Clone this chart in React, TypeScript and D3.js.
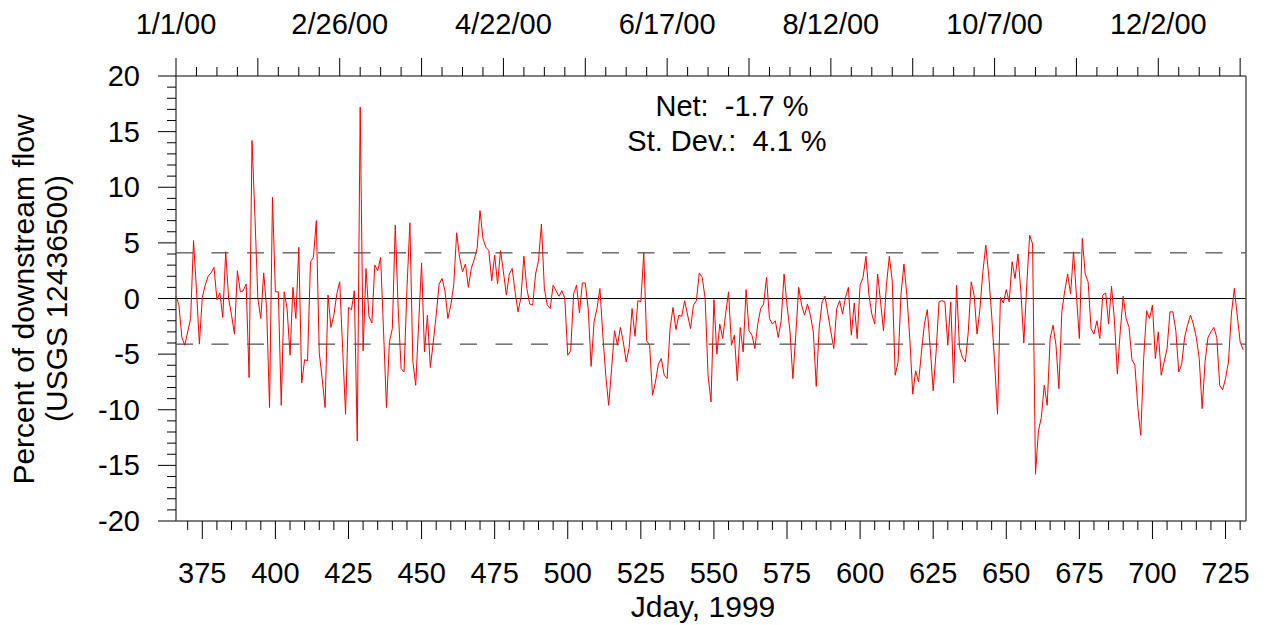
import React from 'react';
import * as d3 from 'd3';

// Jday 1999 of the first value (Jan 1, 2000 = day 366)
const startDay = 366;

// Percent of downstream flow, daily values
const flowPct1 = [0.2, -0.6, -3.5, -4.2, -3.0, -1.8, 5.2, 0.8, -4.1, 0.1, 1.2, 2.0, 2.3, 2.8, -0.1, 0.5, -1.7, 4.2, 0.0, -1.5, -3.2, 2.5, 0.6, 0.7, 1.3, -7.1, 14.2, 7.4, 0.0, -1.8, 2.3, -0.9, -9.8, 9.1, 0.6];
const flowPct2 = [0.6, -9.6, 0.6, -0.9, -5.1, 1.0, -1.8, 4.6, -7.6, -5.5, -5.6, 3.3, 3.7, 7.0, -4.9, -7.2, -9.8, 0.3, -2.6, -1.5, 0.4, 1.5, -4.5, -10.4, -0.8, -1.0, 0.7, -12.8, 17.2, -4.7, 2.7, -1.6, -2.2, 3.0, 2.5, 3.7, -3.0];
const flowPct3 = [-9.8, -3.9, -2.7, 6.6, -0.9, -6.3, -6.6, 0.9, 6.8, -5.6, -7.8, -2.3, 3.2, -4.8, -1.5, -6.2, -3.9, -1.5, 1.3, 1.8, 0.7, -1.8, -0.6, 1.2, 5.9, 3.7, 2.4, 3.1, 1.0, 2.7, 3.5, 4.5, 7.9, 5.4, 4.6, 4.3, 1.6];
const flowPct4 = [3.9, 1.3, 4.3, 2.4, 0.3, 2.2, 2.7, 0.6, -1.2, 0.1, 3.8, 0.9, -0.5, -0.6, 2.2, 3.4, 6.7, 0.9, -0.6, -0.9, 1.2, 0.7, 0.2, 0.7, 0.0, -5.1, -4.7, 0.4, 1.2, -1.3, 1.4, 1.4, -0.9, -6.1, -2.1, -0.9, 0.9];
const flowPct5 = [-3.3, -6.9, -9.6, -6.3, -2.9, -4.2, -2.6, -3.9, -5.7, -4.4, -0.9, -3.4, -0.2, -0.3, 4.1, -3.8, -4.2, -8.7, -7.5, -5.9, -5.4, -6.9, -7.2, -2.7, -0.8, -2.8, -1.5, -1.6, -0.2, -1.5, -2.7, -0.6, -0.2, 2.3, 1.9, 0.0, -6.9];
const flowPct6 = [-9.3, -0.1, -5.0, -2.3, -3.6, -1.4, 0.6, -4.2, -3.3, -7.4, -2.6, -4.8, 0.8, -2.9, -3.3, -4.5, -2.3, -0.9, -0.5, 1.9, -1.8, -2.3, -2.0, -3.5, -2.0, 2.2, -0.6, -2.9, -7.2, -3.3, 1.0, -0.6, -1.5, -0.5, -1.5, -3.0, -7.9];
const flowPct7 = [-2.7, -0.3, 0.2, -1.4, -3.0, -4.5, -0.9, -0.2, -1.4, 0.1, 1.0, -3.3, -0.4, -3.6, 1.2, 1.9, 3.8, 0.4, -1.4, -2.3, 2.2, -0.3, -2.9, 1.2, 3.8, 1.6, -6.9, -5.7, 0.4, 3.1, 0.3, -3.6, -8.6, -6.5, -7.5, -4.8, -2.3];
const flowPct8 = [-1.0, -4.5, -8.3, -4.8, -0.3, -0.2, -0.3, -4.2, -0.3, -7.6, 1.2, -4.4, -5.3, -5.7, -3.0, 1.5, 0.3, -3.2, -0.9, 2.4, 4.8, 2.1, -1.5, -5.7, -10.4, 0.1, -0.4, 0.8, -0.3, 3.3, 1.8, 4.0, 0.6, -4.0, 1.2, 5.7, 4.9];
const flowPct9 = [-15.8, -11.9, -10.7, -7.8, -9.6, -3.6, -2.4, -4.2, -8.1, -1.2, 0.7, 2.2, 0.4, 4.2, 0.3, -3.6, 5.4, 2.2, 1.5, -2.7, -3.2, -2.0, -3.6, 0.3, 0.5, -2.3, 1.1, -2.0, -6.8, -2.9, 0.2, -1.8, -2.6, -5.5, -6.0, -9.8, -12.3];
const flowPct10 = [-5.4, -1.1, -1.8, -0.6, -5.4, -3.0, -6.9, -5.7, -4.5, -1.2, -1.2, -2.9, -6.6, -5.9, -3.5, -2.4, -1.5, -2.3, -3.5, -5.4, -9.9, -5.7, -3.5, -3.0, -2.6, -3.5, -7.8, -8.2, -7.2, -5.7, -1.4, 0.9, -1.5, -3.9, -4.6];

const values = [
  ...flowPct1, ...flowPct2, ...flowPct3, ...flowPct4, ...flowPct5,
  ...flowPct6, ...flowPct7, ...flowPct8, ...flowPct9, ...flowPct10,
];

const xTickValues = [375, 400, 425, 450, 475, 500, 525, 550, 575, 600, 625, 650, 675, 700, 725];
const yTickValues = [20, 15, 10, 5, 0, -5, -10, -15, -20];
const topLabels = ['1/1/00', '2/26/00', '4/22/00', '6/17/00', '8/12/00', '10/7/00', '12/2/00'];
const topLabelDays = [366, 422, 478, 534, 590, 646, 702];

const netPct = -1.7;
const stDevPct = 4.1;

const FONT = '"Liberation Sans", Arial, Helvetica, sans-serif';

export default function App() {
  const W = 1266;
  const H = 625;
  const L = 176, R = 1246, T = 76, B = 521;
  const x = d3.scaleLinear().domain([366, 732]).range([L, R]);
  const y = d3.scaleLinear().domain([-20, 20]).range([B, T]);
  const line = d3.line<number>().x((_, i) => x(startDay + i)).y((d) => y(d));

  const bottomMinor = d3.range(370, 731, 5).filter((d) => d % 25 !== 0);
  const topTicks = d3.range(366, 733, 7);
  const leftMinor = d3.range(-20, 21, 1).filter((d) => d % 5 !== 0);

  const axisStroke = '#555';
  const tickFont = 29;
  const titleFont = 30;

  return (
    <svg width={W} height={H} style={{ position: 'absolute', left: 0, top: 0, background: '#fff' }} fontFamily={FONT}>
      <rect x={0} y={0} width={W} height={H} fill="#fff" />
      {/* reference lines */}
      <line x1={L} x2={R} y1={y(0)} y2={y(0)} stroke="#000" strokeWidth={1} />
      <line x1={L} x2={R} y1={y(stDevPct)} y2={y(stDevPct)} stroke="#222" strokeWidth={1} strokeDasharray="17,18.5" />
      <line x1={L} x2={R} y1={y(-stDevPct)} y2={y(-stDevPct)} stroke="#222" strokeWidth={1} strokeDasharray="17,18.5" />

      {/* data */}
      <path d={line(values) || ''} fill="none" stroke="#ff0000" strokeWidth={1} strokeLinejoin="round" />

      {/* frame */}
      <line x1={L} x2={L} y1={T} y2={B} stroke={axisStroke} strokeWidth={1.5} />
      <line x1={R} x2={R} y1={T} y2={B} stroke={axisStroke} strokeWidth={1.5} />
      <line x1={L} x2={R} y1={T} y2={T} stroke={axisStroke} strokeWidth={1.5} />
      <line x1={L} x2={R} y1={B} y2={B} stroke={axisStroke} strokeWidth={1.5} />

      {/* left axis */}
      {yTickValues.map((v) => (
        <g key={'yt' + v}>
          <line x1={L - 18} x2={L} y1={y(v)} y2={y(v)} stroke="#000" strokeWidth={1} />
          <text x={140} y={y(v) + 10} textAnchor="end" fontSize={tickFont} fill="#000">{String(v)}</text>
        </g>
      ))}
      {leftMinor.map((v) => (
        <line key={'ym' + v} x1={L - 9} x2={L} y1={y(v)} y2={y(v)} stroke="#000" strokeWidth={1} />
      ))}

      {/* bottom axis */}
      {xTickValues.map((v) => (
        <g key={'xt' + v}>
          <line x1={x(v)} x2={x(v)} y1={B} y2={B + 18} stroke="#000" strokeWidth={1} />
          <text x={x(v)} y={583} textAnchor="middle" fontSize={tickFont} fill="#000">{String(v)}</text>
        </g>
      ))}
      {bottomMinor.map((v) => (
        <line key={'xm' + v} x1={x(v)} x2={x(v)} y1={B} y2={B + 9} stroke="#000" strokeWidth={1} />
      ))}

      {/* top axis (dates) */}
      {topTicks.map((d) => {
        const major = (d - 366) % 28 === 0;
        return (
          <line key={'tt' + d} x1={x(d)} x2={x(d)} y1={T} y2={T - (major ? 18 : 9)} stroke="#000" strokeWidth={1} />
        );
      })}
      {topLabels.map((lab, i) => (
        <text key={'tl' + lab} x={x(topLabelDays[i])} y={34} textAnchor="middle" fontSize={tickFont} fill="#000">{lab}</text>
      ))}

      {/* annotations */}
      <text x={732} y={116} textAnchor="middle" fontSize={29} fill="#000" style={{ whiteSpace: 'pre' }}>{`Net:  ${netPct.toFixed(1)} %`}</text>
      <text x={727} y={151} textAnchor="middle" fontSize={29} fill="#000" style={{ whiteSpace: 'pre' }}>{`St. Dev.:  ${stDevPct.toFixed(1)} %`}</text>

      {/* axis titles */}
      <text x={703} y={617} textAnchor="middle" fontSize={titleFont} fill="#000">Jday, 1999</text>
      <text transform={`translate(34,${(T + B) / 2 + 1}) rotate(-90)`} textAnchor="middle" fontSize={titleFont} fill="#000">Percent of downstream flow</text>
      <text transform={`translate(67,${(T + B) / 2}) rotate(-90)`} textAnchor="middle" fontSize={titleFont} fill="#000">(USGS 12436500)</text>
    </svg>
  );
}
